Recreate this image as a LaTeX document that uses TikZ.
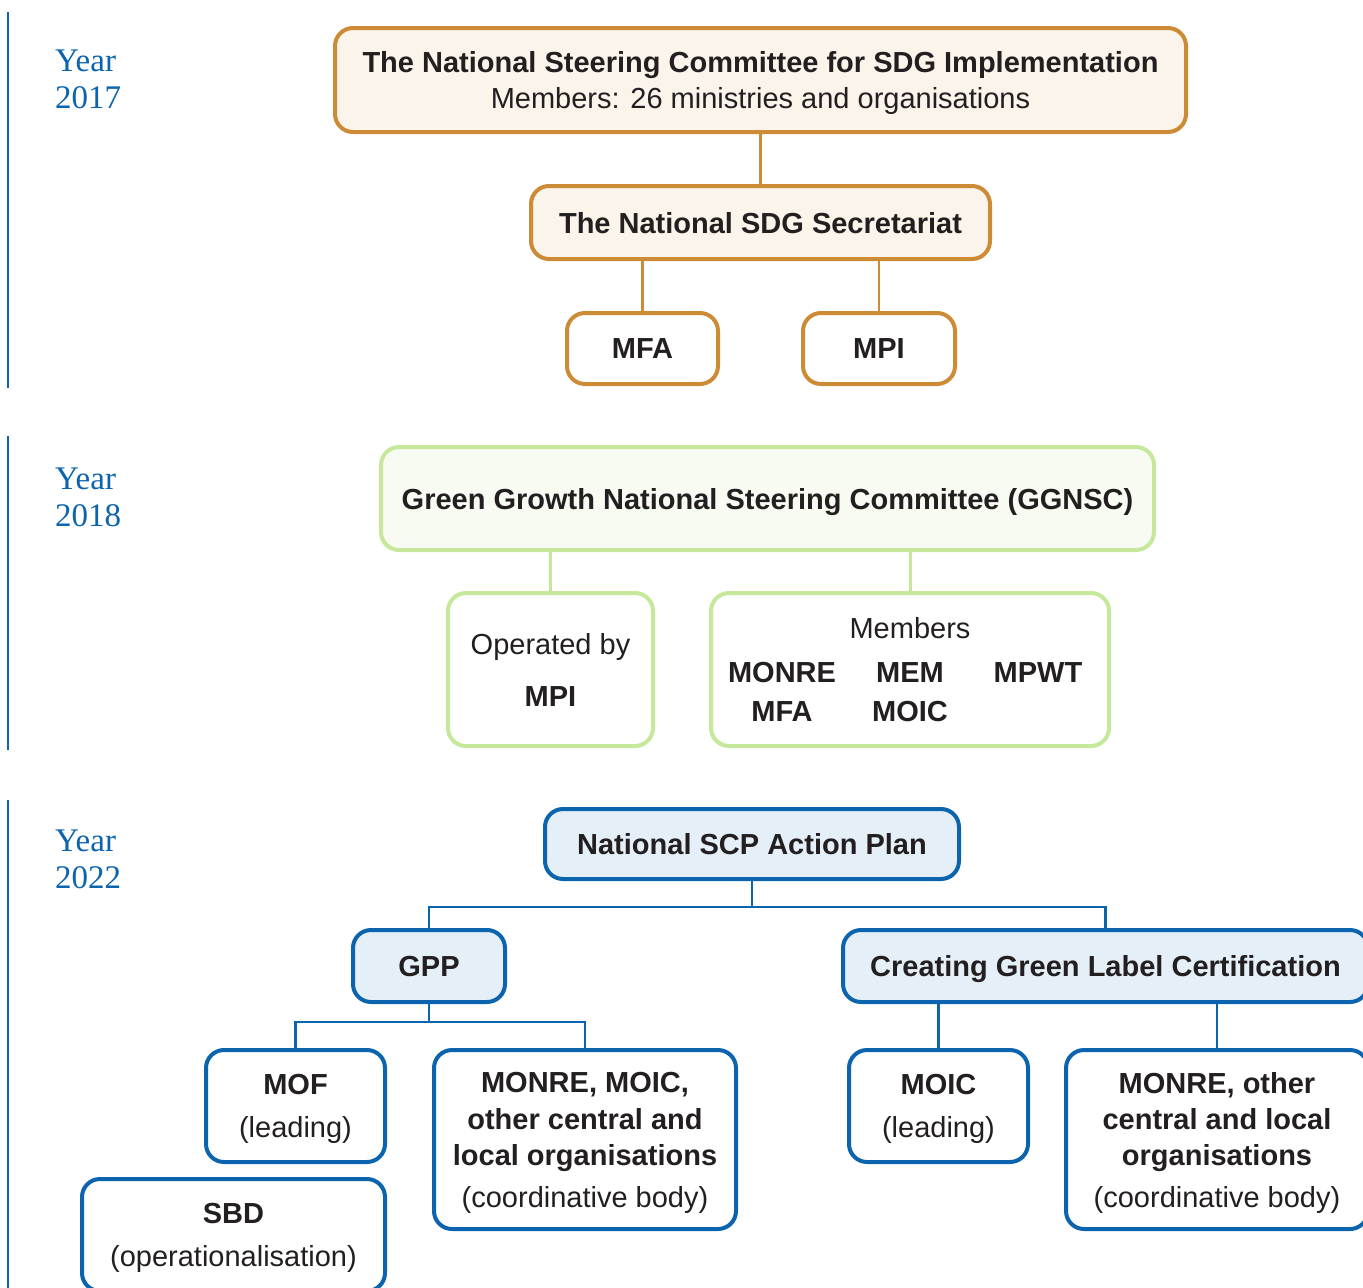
\documentclass[tikz,border=0pt]{standalone}
\usepackage{xcolor}
\usepackage{tikz}
\usepackage{fontspec}
\setmainfont{Liberation Sans}
\newfontfamily\yearfont{Liberation Serif}
\usetikzlibrary{positioning}
\definecolor{sdgorange}{RGB}{205,139,54}
\definecolor{sdgcream}{RGB}{250,244,234}
\definecolor{gggreen}{RGB}{198,232,155}
\definecolor{gglight}{RGB}{247,251,241}
\definecolor{scpblue}{RGB}{11,100,173}
\definecolor{scplight}{RGB}{228,239,247}
\definecolor{txtdark}{RGB}{35,31,32}
\newcommand{\bodyfont}{\fontsize{29}{36}\selectfont}
\newcommand{\mcell}[1]{\makebox[128pt]{#1}}
\tikzstyle{box} = [rectangle, line width=4pt, rounded corners=18pt, align=center, text=txtdark, inner sep=0pt, text depth=0pt, font=\bodyfont]
\tikzstyle{obox} = [box, draw=sdgorange, fill=sdgcream]
\tikzstyle{gbox} = [box, draw=gggreen, fill=gglight]
\tikzstyle{bbox} = [box, draw=scpblue, fill=scplight]
\tikzstyle{wbox} = [box, fill=white]
\tikzstyle{oline} = [draw=sdgorange, line width=2.5pt]
\tikzstyle{gline} = [draw=gggreen, line width=3pt]
\tikzstyle{bline} = [draw=scpblue, line width=2.5pt]
\tikzstyle{yearlbl} = [text=scpblue, font=\yearfont\fontsize{33}{37}\selectfont, align=left, anchor=north west, inner sep=0pt]
\tikzstyle{yearbar} = [draw=scpblue, line width=2.5pt]

\begin{document}
\begin{tikzpicture}[x=1pt, y=-1pt]
            \useasboundingbox (0,0) rectangle (1363,1288);
            % Year bars and labels
            \draw[yearbar] (8,12) -- (8,388);
            \draw[yearbar] (8,436) -- (8,750);
            \draw[yearbar] (8,800) -- (8,1288);
            \node[yearlbl] (y2017) at (55,50) {Year\\2017};
            \node[yearlbl] (y2018) at (55,468) {Year\\2018};
            \node[yearlbl] (y2022) at (55,830) {Year\\2022};

            % 2017
            \node[obox, minimum width=851pt, minimum height=104pt] (nsc) at (760.5,80) {\textbf{The National Steering Committee for SDG Implementation}\\Members: 26 ministries and organisations};
            \node[obox, minimum width=459pt, minimum height=73pt] (sec) at (760.5,222.5) {\textbf{The National SDG Secretariat}};
            \node[wbox, draw=sdgorange, minimum width=151pt, minimum height=71pt] (mfa) at (642.5,348.5) {\textbf{MFA}};
            \node[wbox, draw=sdgorange, minimum width=152pt, minimum height=71pt] (mpi) at (879,348.5) {\textbf{MPI}};
            \draw[oline] (nsc) -- (sec);
            \draw[oline] (mfa.north) -- (mfa.north |- sec.south);
            \draw[oline] (mpi.north) -- (mpi.north |- sec.south);

            % 2018
            \node[gbox, minimum width=773pt, minimum height=103pt] (ggnsc) at (767.5,498.5) {\textbf{Green Growth National Steering Committee (GGNSC)}};
            \node[wbox, draw=gggreen, minimum width=205pt, minimum height=153pt] (opby) at (550.5,669.5) {Operated by\\[16pt]\textbf{MPI}};
            \node[wbox, draw=gggreen, minimum width=398pt, minimum height=153pt] (memb) at (910,669.5) {Members\\[8pt]\bfseries\mcell{MONRE}\mcell{MEM}\mcell{MPWT}\\[3pt]\bfseries\mcell{MFA}\mcell{MOIC}\mcell{}};
            \draw[gline] (opby.north) -- (opby.north |- ggnsc.south);
            \draw[gline] (memb.north) -- (memb.north |- ggnsc.south);

            % 2022
            \node[bbox, minimum width=414pt, minimum height=70pt] (scp) at (752,844) {\textbf{National SCP Action Plan}};
            \node[bbox, minimum width=152pt, minimum height=72pt] (gpp) at (429,966) {\textbf{GPP}};
            \node[bbox, minimum width=525pt, minimum height=72pt] (cglc) at (1105.5,966) {\textbf{Creating Green Label Certification}};
            \node[wbox, draw=scpblue, minimum width=179pt, minimum height=112pt] (mof) at (295.5,1106) {\textbf{MOF}\\[7pt](leading)};
            \node[wbox, draw=scpblue, minimum width=303pt, minimum height=112pt] (sbd) at (233.5,1235) {\textbf{SBD}\\[7pt](operationalisation)};
            \node[wbox, draw=scpblue, minimum width=302pt, minimum height=179pt] (mmoic) at (585,1139.5) {\textbf{MONRE, MOIC,}\\[1pt]\textbf{other central and}\\\textbf{local organisations}\\[6pt](coordinative body)};
            \node[wbox, draw=scpblue, minimum width=179pt, minimum height=112pt] (moic) at (938.5,1106) {\textbf{MOIC}\\[7pt](leading)};
            \node[wbox, draw=scpblue, minimum width=302pt, minimum height=179pt] (mother) at (1217,1139.5) {\textbf{MONRE, other}\\\textbf{central and local}\\\textbf{organisations}\\[6pt](coordinative body)};
            \draw[bline] (scp.south) -- ++(0,26) -| (gpp.north);
            \draw[bline] (scp.south) -- ++(0,26) -| (cglc.north);
            \draw[bline] (gpp.south) -- ++(0,18) -| (mof.north);
            \draw[bline] (gpp.south) -- ++(0,18) -| (mmoic.north);
            \draw[bline] (moic.north) -- (moic.north |- cglc.south);
            \draw[bline] (mother.north) -- (mother.north |- cglc.south);
        \end{tikzpicture}
\end{document}
